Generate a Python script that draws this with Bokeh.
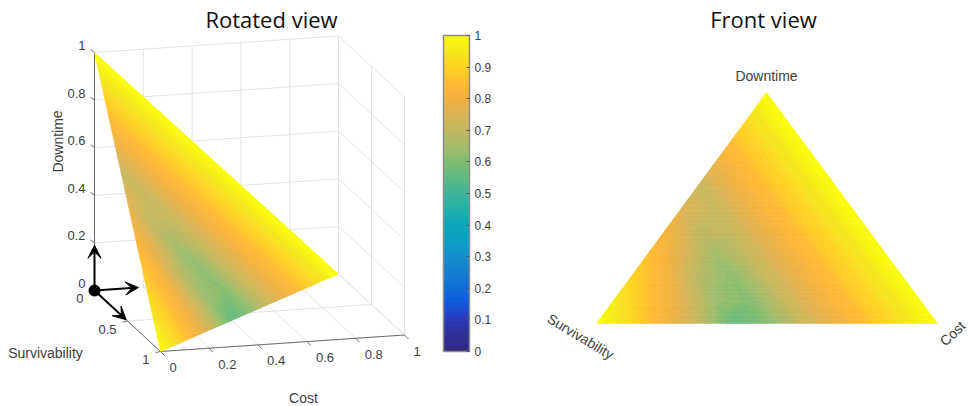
import numpy as np
from bokeh.core.properties import value
from bokeh.embed import file_html
from bokeh.models import Arrow, ColorBar, ColumnDataSource, FixedTicker, LinearColorMapper, Range1d, VeeHead
from bokeh.plotting import figure
from bokeh.resources import INLINE

# Colour scale
scale_stops = [0, .05, .1, .15, .2, .25, .3, .35, .4, .45, .5, .55, .6, .65, .7, .75, .8, .85, .9, .95, 1]
scale_colors = ["#332a85", "#30309a", "#2a3cc0", "#0f57dc", "#0f6fd8", "#1280d0", "#1490cc", "#0e9fc4",
                "#0aa8bc", "#20b0a8", "#3db496", "#5cba84", "#80bc70", "#a4bc68", "#c0b860", "#d8b455",
                "#f0b040", "#ffb833", "#ffcf22", "#f5e41c", "#fafa08"]
colorbar_ticks = [0, .1, .2, .3, .4, .5, .6, .7, .8, .9, 1]

# Surface values: one row per Downtime level (0, .1, ... 1), one entry per Cost level (0, .1, ...)
surface = [
    [1.00, .91, .82, .70, .56, .60, .71, .79, .86, .935, 1.00],
    [.955, .865, .765, .635, .60, .71, .79, .86, .935, 1.00],
    [.91, .82, .68, .61, .71, .79, .86, .935, 1.00],
    [.865, .76, .645, .71, .79, .86, .935, 1.00],
    [.82, .70, .71, .79, .86, .935, 1.00],
    [.765, .71, .79, .86, .935, 1.00],
    [.71, .79, .86, .935, 1.00],
    [.79, .86, .935, 1.00],
    [.86, .935, 1.00],
    [.935, 1.00],
    [1.00],
]
axis_ticks = [0, .2, .4, .6, .8, 1]
axis_tick_labels = ["0", "0.2", "0.4", "0.6", "0.8", "1"]
surv_ticks = [0, .5, 1]
surv_tick_labels = ["0", "0.5", "1"]
arrow_lengths = {"cost": .18, "surv": .48, "down": .19}

TEXT = "#404040"
GRID = "#e3e3e3"
AXIS = "#6e6e6e"
SANS = value("Liberation Sans")


def rotated(cost, surv, down):
    c, s, d = np.asarray(cost, float), np.asarray(surv, float), np.asarray(down, float)
    return 94 + 244 * c + 66 * s, 290 - 16.5 * c + 61 * s - 238 * d


def front(cost, surv, down):
    c, s, d = np.asarray(cost, float), np.asarray(surv, float), np.asarray(down, float)
    return 596 * s + 937 * c + 766 * d, 323 * s + 323 * c + 92 * d


p = figure(width=970, height=406, x_range=Range1d(0, 970), y_range=Range1d(406, 0),
           toolbar_location=None, output_backend="svg", min_border=0, outline_line_color=None)
p.axis.visible = False
p.grid.visible = False


def segs(x0, y0, x1, y1, color, width=1):
    f = lambda q: np.atleast_1d(q).astype(float).tolist()
    p.segment(x0=f(x0), y0=f(y0), x1=f(x1), y1=f(y1), line_color=color, line_width=width)


def label(x, y, txt, size="14px", align="center", baseline="middle", angle=0, font=SANS, color=TEXT):
    p.text(x=[x], y=[y], text=[txt], text_font=font, text_font_size=size, text_color=color,
           text_align=align, text_baseline=baseline, angle=[angle], angle_units="deg")


def draw_line(a, b, color):
    segs(a[0], a[1], b[0], b[1], color)


# Wall and floor grid of the 3-D view
t = np.array(axis_ticks, float)
tt = np.array(surv_ticks, float)
for v in t:
    draw_line(rotated(v, 0, 0), rotated(v, 0, 1), GRID)      # back wall, vertical
    draw_line(rotated(0, 0, v), rotated(1, 0, v), GRID)      # back wall, horizontal
    draw_line(rotated(1, 0, v), rotated(1, 1, v), GRID)      # side wall
    draw_line(rotated(v, 0, 0), rotated(v, 1, 0), GRID)      # floor
for v in tt:
    draw_line(rotated(1, v, 0), rotated(1, v, 1), GRID)
    if v > 0:
        draw_line(rotated(0, v, 0), rotated(1, v, 0), GRID)

# Dark axes with their ticks
draw_line(rotated(0, 0, 0), rotated(0, 0, 1), AXIS)
draw_line(rotated(0, 0, 0), rotated(0, 1, 0), AXIS)
draw_line(rotated(0, 1, 0), rotated(1, 1, 0), AXIS)
a = rotated(t, np.ones_like(t), np.zeros_like(t))
segs(a[0], a[1], a[0] + 4, a[1] + 4, AXIS)
a = rotated(np.zeros_like(t), np.zeros_like(t), t)
segs(a[0], a[1], a[0] - 4, a[1] - 3, AXIS)
a = rotated(np.zeros_like(tt), tt, np.zeros_like(tt))
segs(a[0], a[1], a[0] - 5, a[1] + 1, AXIS)

# Surface, drawn in both views with interpolated shading
KS = 6
cs, ss, ds, vs = [], [], [], []


def add_coarse(pts, vals):
    pts = np.array(pts, float)
    vals = np.array(vals, float)
    for i in range(KS):
        for j in range(KS - i):
            tris = [((i, j), (i + 1, j), (i, j + 1))]
            if j < KS - i - 1:
                tris.append(((i + 1, j), (i, j + 1), (i + 1, j + 1)))
            for tri in tris:
                w = np.array([[1 - (q[0] + q[1]) / KS, q[0] / KS, q[1] / KS] for q in tri])
                corner = w @ pts
                cs.append(corner[:, 0]); ss.append(corner[:, 1]); ds.append(corner[:, 2])
                vs.append(float((w @ vals).mean()))


N = len(surface) - 1
for di in range(N):
    for ci in range(N - di):
        d0, d1, c0, c1 = di / N, (di + 1) / N, ci / N, (ci + 1) / N
        add_coarse([(c0, 1 - c0 - d0, d0), (c1, 1 - c1 - d0, d0), (c0, 1 - c0 - d1, d1)],
                   [surface[di][ci], surface[di][ci + 1], surface[di + 1][ci]])
        if ci < N - di - 1:
            add_coarse([(c1, 1 - c1 - d0, d0), (c0, 1 - c0 - d1, d1), (c1, 1 - c1 - d1, d1)],
                       [surface[di][ci + 1], surface[di + 1][ci], surface[di + 1][ci + 1]])

levels = np.linspace(0, 1, 64)
hex2 = lambda h: [int(h[k:k + 2], 16) for k in (1, 3, 5)]
rgb = np.array([hex2(h) for h in scale_colors], float)
palette = ["#%02x%02x%02x" % tuple(int(round(np.interp(l, scale_stops, rgb[:, k]))) for k in range(3)) for l in levels]
mapper = LinearColorMapper(palette=palette, low=0, high=1)

for view in (rotated, front):
    xs, ys = [], []
    for c, s, d in zip(cs, ss, ds):
        x, y = view(c, s, d)
        xs.append(x.tolist()); ys.append(y.tolist())
    src = ColumnDataSource(dict(xs=xs, ys=ys, v=vs))
    p.patches("xs", "ys", source=src, fill_color={"field": "v", "transform": mapper},
              line_color={"field": "v", "transform": mapper}, line_width=0.5)

# Direction arrows and origin dot
ox, oy = rotated(0, 0, 0)
ends = [rotated(arrow_lengths["cost"], 0, 0), rotated(0, arrow_lengths["surv"], 0), rotated(0, 0, arrow_lengths["down"])]
for ex, ey in ends:
    p.add_layout(Arrow(end=VeeHead(size=13, fill_color="black", line_color="black", line_width=1),
                       x_start=float(ox), y_start=float(oy), x_end=float(ex), y_end=float(ey),
                       line_color="black", line_width=2))
p.scatter(x=[float(ox)], y=[float(oy)], size=11, color="black")

# Tick labels of the 3-D view
for v, txt in zip(axis_ticks, axis_tick_labels):
    x, y = rotated(v, 1, 0)
    label(float(x) + 9, float(y) + 16, txt, align="left", size="13px")
    x, y = rotated(0, 0, v)
    label(float(x) - 9, float(y) - 7, txt, align="right", size="13px")
for v, txt in zip(surv_ticks, surv_tick_labels):
    x, y = rotated(0, v, 0)
    label(float(x) - 11, float(y) + 8, txt, align="right", size="13px")

label(57, 141, "Downtime", angle=90)
label(45, 352, "Survivability")
label(303, 397, "Cost")
label(271, 18, "Rotated view", size="22px", font=value("Open Sans"), color="#111111")
label(763, 18, "Front view", size="22px", font=value("Open Sans"), color="#111111")
label(766, 75, "Downtime")
label(580, 336, "Survivability", angle=-31)
label(952, 333, "Cost", angle=44)

# Colour bar
bar = ColorBar(color_mapper=mapper, ticker=FixedTicker(ticks=colorbar_ticks), width=26, height=316,
               padding=0, margin=0, location=(443, 55), bar_line_color="#8c8c8c", bar_line_width=1.5,
               major_tick_line_color="#555555", major_tick_in=3, major_tick_out=0, minor_tick_line_color=None,
               major_label_text_font="Liberation Sans", major_label_text_font_size="12px",
               major_label_text_color=TEXT, label_standoff=5, background_fill_color=None,
               major_label_overrides={0: "0", 1: "1"})
p.add_layout(bar)

open("out.html", "w").write(file_html(p, INLINE))
